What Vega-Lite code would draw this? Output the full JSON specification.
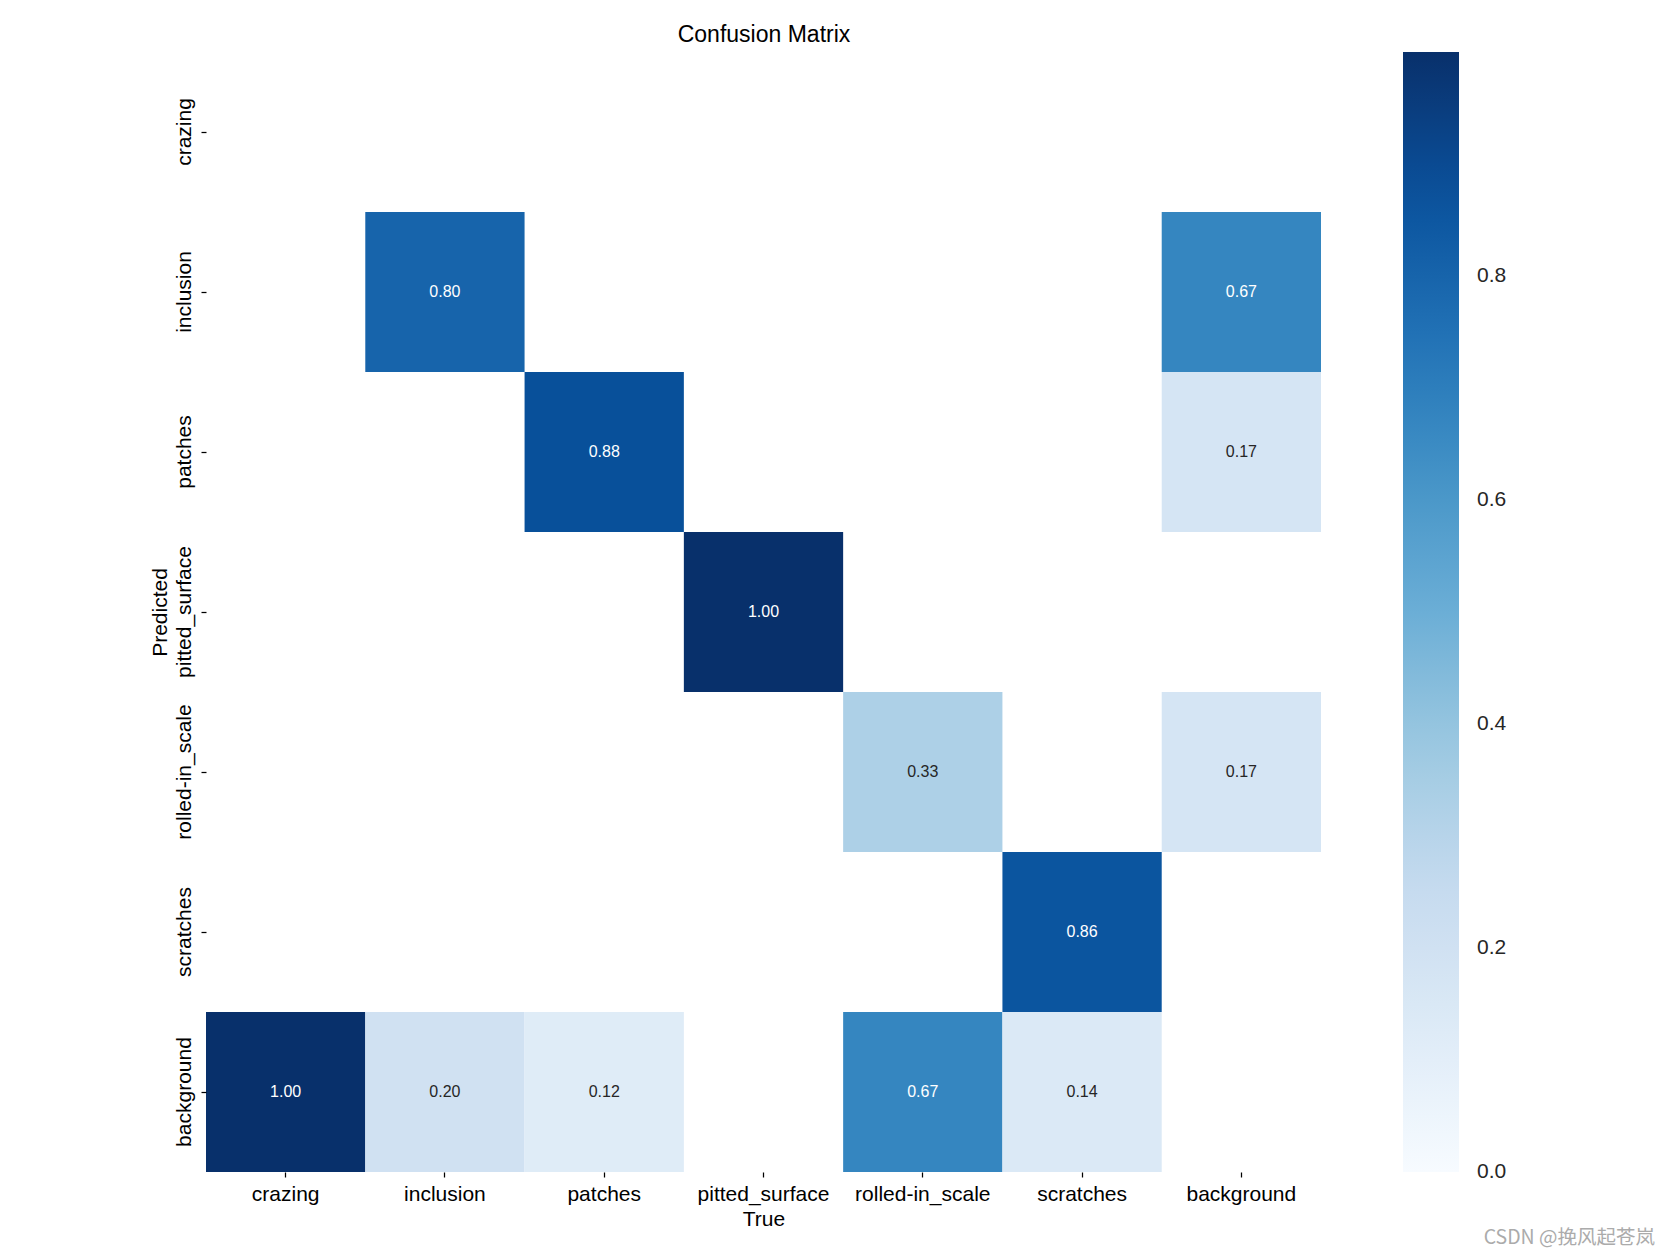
{
  "$schema": "https://vega.github.io/schema/vega-lite/v6.json",
  "width": 1115,
  "height": 1120,
  "autosize": "none",
  "padding": {"left": 206, "top": 52, "right": 350, "bottom": 84},
  "background": "white",
  "config": {"font": "Liberation Sans", "view": {"stroke": null}},
  "title": {
    "text": "CSDN @挽风起苍岚",
    "orient": "bottom",
    "anchor": "end",
    "frame": "group",
    "dx": 334,
    "offset": 0,
    "fontSize": 19.5,
    "fontWeight": "normal",
    "color": "#ababab",
    "font": "Noto Sans CJK SC"
  },
  "data": {
    "values": [
      {"pred": "inclusion", "true": "inclusion", "value": 0.80},
      {"pred": "inclusion", "true": "background", "value": 0.67},
      {"pred": "patches", "true": "patches", "value": 0.88},
      {"pred": "patches", "true": "background", "value": 0.17},
      {"pred": "pitted_surface", "true": "pitted_surface", "value": 1.00},
      {"pred": "rolled-in_scale", "true": "rolled-in_scale", "value": 0.33},
      {"pred": "rolled-in_scale", "true": "background", "value": 0.17},
      {"pred": "scratches", "true": "scratches", "value": 0.86},
      {"pred": "background", "true": "crazing", "value": 1.00},
      {"pred": "background", "true": "inclusion", "value": 0.20},
      {"pred": "background", "true": "patches", "value": 0.12},
      {"pred": "background", "true": "rolled-in_scale", "value": 0.67},
      {"pred": "background", "true": "scratches", "value": 0.14}
    ]
  },
  "layer": [
    {
      "mark": {"type": "rect"},
      "encoding": {
        "x": {
          "field": "true", "type": "nominal",
          "scale": {"domain": ["crazing", "inclusion", "patches", "pitted_surface", "rolled-in_scale", "scratches", "background"], "paddingInner": 0, "paddingOuter": 0},
          "axis": {"orient": "bottom", "title": "True", "titleFontSize": 21, "titleFontWeight": "normal", "titleColor": "#000000", "titlePadding": 4, "labelFontSize": 21, "labelColor": "#000000", "labelAngle": 0, "labelPadding": 6, "tickSize": 5, "tickWidth": 1.25, "tickColor": "#000000", "domain": false, "grid": false}
        },
        "y": {
          "field": "pred", "type": "nominal",
          "scale": {"domain": ["crazing", "inclusion", "patches", "pitted_surface", "rolled-in_scale", "scratches", "background"], "paddingInner": 0, "paddingOuter": 0},
          "axis": {"title": "Predicted", "titleFontSize": 21, "titleFontWeight": "normal", "titleColor": "#000000", "titlePadding": 3, "labelFontSize": 21, "labelColor": "#000000", "labelAngle": 270, "labelAlign": "center", "labelBaseline": "bottom", "labelPadding": 7, "tickSize": 5, "tickWidth": 1.25, "tickColor": "#000000", "domain": false, "grid": false}
        },
        "color": {
          "field": "value", "type": "quantitative",
          "scale": {"type": "linear", "domain": [0, 0.125, 0.25, 0.375, 0.5, 0.625, 0.75, 0.875, 1], "range": ["#f7fbff", "#deebf7", "#c6dbef", "#9ecae1", "#6baed6", "#4292c6", "#2171b5", "#08519c", "#08306b"]},
          "legend": {
            "orient": "none", "legendX": 1197, "legendY": 0, "direction": "vertical",
            "gradientLength": 1120, "gradientThickness": 56, "gradientStrokeWidth": 0,
            "title": null, "values": [0, 0.2, 0.4, 0.6, 0.8], "format": ".1f",
            "labelFontSize": 21, "labelOffset": 18, "labelColor": "#262626", "labelOverlap": false, "padding": 0,
            "encode": {"labels": {"update": {"baseline": {"value": "middle"}}}}
          }
        }
      }
    },
    {
      "mark": {"type": "text", "fontSize": 16},
      "encoding": {
        "x": {"field": "true", "type": "nominal", "axis": null},
        "y": {"field": "pred", "type": "nominal"},
        "text": {"field": "value", "type": "quantitative", "format": ".2f"},
        "color": {"condition": {"test": "datum.value > 0.5", "value": "#ffffff"}, "value": "#262626"}
      }
    },
    {
      "mark": {"type": "rect", "opacity": 0},
      "encoding": {
        "x": {"field": "true", "type": "nominal", "axis": {"orient": "top", "title": "Confusion Matrix", "titleFontSize": 23, "titleFontWeight": "normal", "titleColor": "#000000", "titlePadding": 6, "labels": false, "ticks": false, "domain": false, "grid": false}}
      }
    }
  ],
  "resolve": {"axis": {"x": "independent"}}
}
